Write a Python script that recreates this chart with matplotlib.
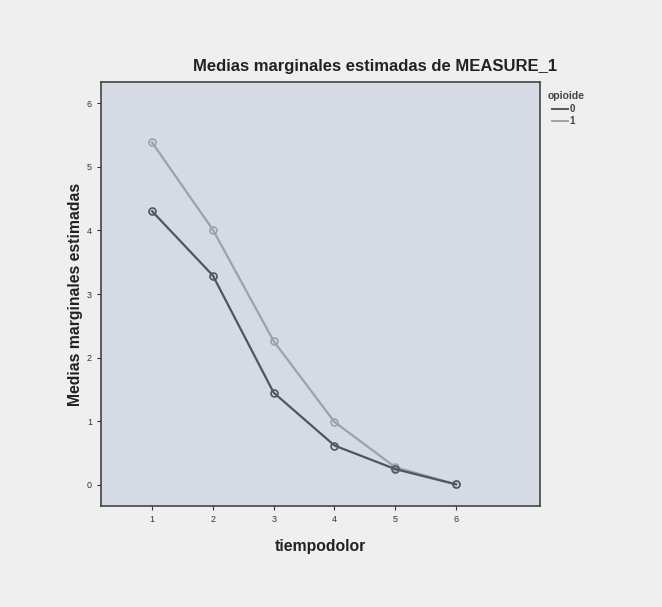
import matplotlib.pyplot as plt
from matplotlib.lines import Line2D

plt.rcParams['font.family'] = ['Liberation Sans', 'DejaVu Sans']

tiempo = [1, 2, 3, 4, 5, 6]
medias_0 = [4.30, 3.29, 1.45, 0.62, 0.25, 0.01]
medias_1 = [5.38, 4.01, 2.26, 0.99, 0.28, 0.01]
yticks = [0, 1, 2, 3, 4, 5, 6]

c0 = '#50555f'
c1 = '#9da2aa'

fig = plt.figure(figsize=(6.62, 6.07), dpi=100, facecolor='#efefef')
ax = fig.add_axes([0.1526, 0.1664, 0.663, 0.6985])
ax.set_facecolor('#d5dae4')

ax.plot(tiempo, medias_1, color=c1, lw=1.6, marker='o', ms=5,
        mfc='none', mec=c1, mew=1.2, zorder=2)
ax.plot(tiempo, medias_0, color=c0, lw=1.6, marker='o', ms=5,
        mfc='none', mec=c0, mew=1.2, zorder=3)

ax.set_xlim(0.16, 7.38)
ax.set_ylim(-0.33, 6.33)
ax.set_xticks(tiempo)
ax.set_yticks(yticks)
ax.tick_params(labelsize=6.5, colors='#333333', length=3, width=0.8)
for s in ax.spines.values():
    s.set_color('#444444')
    s.set_linewidth(1.2)

ax.set_xlabel('tiempodolor', fontsize=11.3, fontweight='bold', color='#222222', labelpad=11)
ax.set_ylabel('Medias marginales estimadas', fontsize=11.3, fontweight='bold', color='#222222', labelpad=3)

fig.text(375 / 662, 1 - 67 / 607, 'Medias marginales estimadas de MEASURE_1',
         ha='center', va='center', fontsize=12, fontweight='bold', color='#222222')

# leyenda
fig.text(548 / 662, 1 - 96 / 607, 'opioide', ha='left', va='center',
         fontsize=7.5, fontweight='bold', color='#444444')
handles = [Line2D([], [], color=c0, lw=1.4), Line2D([], [], color=c1, lw=1.4)]
leg = fig.legend(handles, ['0', '1'], loc='upper left',
                 bbox_to_anchor=(552 / 662, 1 - 104 / 607), frameon=False,
                 fontsize=7, handlelength=1.6, handletextpad=0.2,
                 labelspacing=0.2, borderaxespad=0, borderpad=0)
for t in leg.get_texts():
    t.set_color('#444444')
    t.set_fontweight('bold')

fig.savefig('out.png', dpi=100, facecolor=fig.get_facecolor())
